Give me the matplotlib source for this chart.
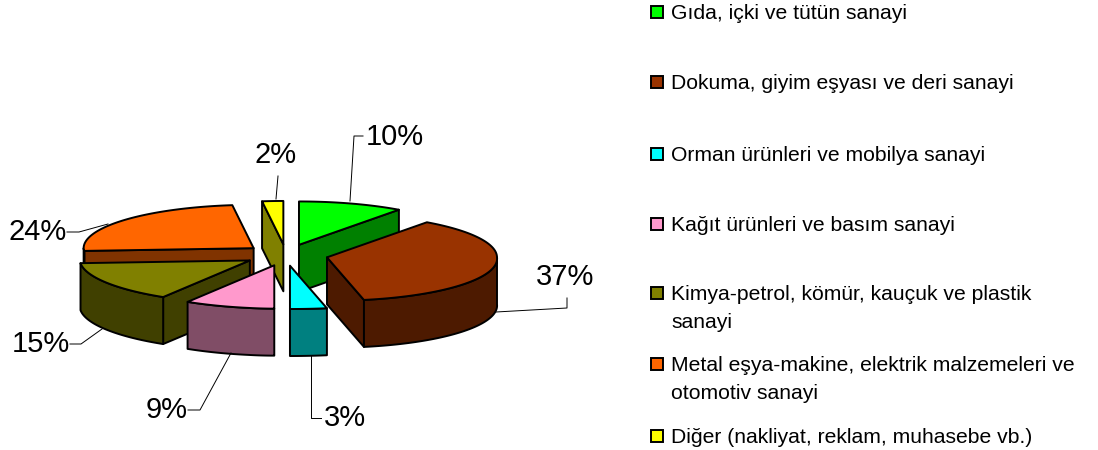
import matplotlib
matplotlib.use('Agg')
import matplotlib.pyplot as plt
from matplotlib.patches import Polygon, Rectangle
import numpy as np

plt.rcParams['font.family'] = ['Liberation Sans', 'DejaVu Sans']

# data

sectors = ['Gıda, içki ve tütün sanayi',
           'Dokuma, giyim eşyası ve deri sanayi',
           'Orman ürünleri ve mobilya sanayi',
           'Kağıt ürünleri ve basım sanayi',
           'Kimya-petrol, kömür, kauçuk ve plastik\nsanayi',
           'Metal eşya-makine, elektrik malzemeleri ve\notomotiv sanayi',
           'Diğer (nakliyat, reklam, muhasebe vb.)']
shares = [10, 37, 3, 9, 15, 24, 2]

top_colors = ['#00FF00', '#993300', '#00FFFF', '#FF99CC', '#808000', '#FF6600', '#FFFF00']
side_colors = ['#008000', '#4D1A00', '#008080', '#804D66', '#404000', '#803300', '#808000']

# layout, in pixels

cx, cy = 286, 255      # pie centre
radius = 170
squash = 0.255
depth = 47
explode = 42
front_skew = 0.12      # excel's 3d view leans the front rim to the right

label_xy = [(395, 137), (565, 277), (345, 418), (167, 410), (41, 344), (38, 232), (276, 155)]
leaders = [[(350, 201), (354, 136), (363, 136)],
           [(496, 312), (567, 308), (567, 298)],
           [(311, 355), (311, 418), (321, 418)],
           [(231, 353), (200, 410), (188, 410)],
           [(102, 329), (81, 344), (70, 344)],
           [(108, 224), (79, 232), (67, 232)],
           [(276, 199), (278, 176)]]
legend_y = [12, 82, 154, 224, 293, 364, 436]

fig = plt.figure(figsize=(10.98, 4.5), dpi=100)
ax = fig.add_axes([0, 0, 1, 1])
ax.set_xlim(0, 1098)
ax.set_ylim(450, 0)
ax.axis('off')

# wedge angles, clockwise from 12 o'clock

edges = np.radians(np.cumsum([0] + shares) / sum(shares) * 360)


def rim(x0, y0, a):
    dy = -radius * squash * np.cos(a)
    # the 6 o'clock edge stays vertical, the lean fades in next to it
    lean = front_skew * np.maximum(dy, 0) * np.minimum(np.abs(np.sin(a)) / 0.18, 1)
    return np.column_stack([x0 + radius * np.sin(a) + lean, y0 + dy])


def face(pts, color, z):
    ax.add_patch(Polygon(pts, closed=True, facecolor=color, edgecolor='black',
                         linewidth=1.4, joinstyle='round', zorder=z))


apexes = []
for i in range(len(shares)):
    mid = (edges[i] + edges[i + 1]) / 2
    apexes.append((cx + explode * np.sin(mid), cy - explode * squash * np.cos(mid)))

down = np.array([0, depth])
for z, i in enumerate(np.argsort([p[1] for p in apexes])):
    a0, a1 = edges[i], edges[i + 1]
    apex = np.array(apexes[i])
    arc = rim(apex[0], apex[1], np.linspace(a0, a1, 80))
    base = 3 * z

    # radial cut faces that look at the viewer
    if np.sin(a0) < -1e-6:
        face([apex, arc[0], arc[0] + down, apex + down], side_colors[i], base)
    if np.sin(a1) > 1e-6:
        face([apex, arc[-1], arc[-1] + down, apex + down], side_colors[i], base)

    # outer wall, only the front half of the rim shows
    front = np.linspace(max(a0, np.pi / 2), min(a1, 3 * np.pi / 2), 80)
    if front[-1] > front[0]:
        wall = rim(apex[0], apex[1], front)
        face(np.vstack([wall, wall[::-1] + down]), side_colors[i], base + 1)

    face(np.vstack([apex, arc]), top_colors[i], base + 2)

# percent labels and leader lines

for v, (x, y), line in zip(shares, label_xy, leaders):
    ax.text(x, y, f'{v}%', fontsize=21, ha='center', va='center', color='black', zorder=50)
    ax.plot(*zip(*line), color='black', linewidth=0.7, zorder=40)

# legend

for name, color, y in zip(sectors, top_colors, legend_y):
    ax.add_patch(Rectangle((651, y - 6), 12, 12, facecolor=color, edgecolor='black',
                           linewidth=1.4, zorder=50))
    for n, line in enumerate(name.split('\n')):
        ax.text(671, y + 7 + 28 * n, line, fontsize=15.2, ha='left', va='baseline',
                color='black', zorder=50)

fig.savefig('out.png', dpi=100)
